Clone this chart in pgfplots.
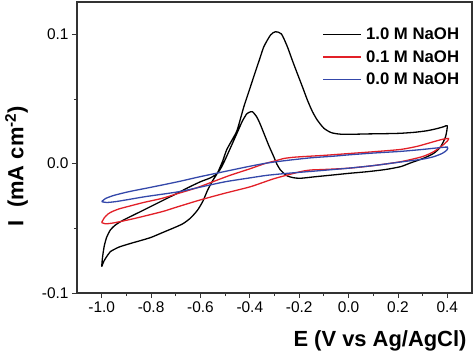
\documentclass[border=0pt]{standalone}
\usepackage{fontspec}
\setmainfont{Liberation Sans}
\usepackage{pgfplots}
\pgfplotsset{compat=1.18}
\definecolor{cvred}{RGB}{226,32,40}
\definecolor{cvblue}{RGB}{52,72,170}
\begin{document}
\begin{tikzpicture}
\begin{axis}[
  at={(0,0)}, anchor=south west,
  scale only axis, width=395bp, height=291bp,
  xmin=-1.1, xmax=0.5, ymin=-0.1, ymax=0.125,
  xtick={-1,-0.8,-0.6,-0.4,-0.2,0,0.2,0.4},
  xticklabels={-1.0,-0.8,-0.6,-0.4,-0.2,0.0,0.2,0.4},
  ytick={-0.1,0,0.1},
  yticklabels={-0.1,0.0,0.1},
  minor x tick num=1, minor y tick num=1,
  tick pos=left, tick align=outside,
  major tick length=5bp, minor tick length=3bp,
  every tick/.style={black!80, line width=0.8bp},
  axis line style={black!80, line width=1.1bp},
  tick label style={font=\fontsize{15.5}{18}\selectfont},
  xlabel={E (V vs Ag/AgCl)},
  ylabel={I\ \ (mA cm\textsuperscript{-2})},
  label style={font=\bfseries\fontsize{22}{26}\selectfont},
  xlabel style={at={(axis description cs:0.99494,-0.18213)}, anchor=base east},
  ylabel style={at={(axis description cs:-0.1532,0.4364)}, anchor=center},
  legend style={draw=none, fill=none, at={(axis description cs:0.6210,0.914)}, anchor=north west,
    font=\bfseries\fontsize{16.8}{19}\selectfont, row sep=7bp, column sep=3.5bp, inner sep=0pt, nodes={inner sep=1bp}},
  legend cell align=left,
  legend image code/.code={\draw[#1, line width=1.1bp] (0bp,0bp) -- (38bp,0bp);},
]
\addplot[black, line width=1.3bp, smooth, tension=0.4] table {
-1.000 -0.0797
-0.990 -0.0750
-0.975 -0.0705
-0.965 -0.0680
-0.930 -0.0645
-0.880 -0.0615
-0.843 -0.0595
-0.800 -0.0570
-0.750 -0.0530
-0.700 -0.0490
-0.669 -0.0462
-0.640 -0.0420
-0.612 -0.0360
-0.590 -0.0290
-0.571 -0.0205
-0.550 -0.0130
-0.531 -0.0072
-0.510 0.0020
-0.494 0.0106
-0.470 0.0190
-0.451 0.0261
-0.424 0.0441
-0.400 0.0580
-0.384 0.0673
-0.360 0.0810
-0.343 0.0905
-0.316 0.0995
-0.296 0.1020
-0.272 0.1003
-0.248 0.0905
-0.228 0.0800
-0.208 0.0699
-0.187 0.0595
-0.167 0.0493
-0.147 0.0405
-0.127 0.0338
-0.100 0.0274
-0.070 0.0240
-0.032 0.0228
0.030 0.0228
0.076 0.0230
0.150 0.0232
0.211 0.0235
0.270 0.0243
0.319 0.0255
0.360 0.0272
0.386 0.0286
0.400 0.0292
0.393 0.0209
0.373 0.0131
0.345 0.0080
0.304 0.0042
0.250 0.0005
0.211 -0.0023
0.150 -0.0045
0.076 -0.0062
0.000 -0.0075
-0.061 -0.0087
-0.130 -0.0100
-0.195 -0.0113
-0.225 -0.0108
-0.248 -0.0095
-0.265 -0.0070
-0.276 -0.0049
-0.290 -0.0005
-0.303 0.0054
-0.323 0.0140
-0.343 0.0235
-0.360 0.0315
-0.373 0.0365
-0.390 0.0402
-0.405 0.0395
-0.413 0.0384
-0.430 0.0330
-0.446 0.0261
-0.466 0.0175
-0.486 0.0090
-0.510 -0.0010
-0.531 -0.0074
-0.560 -0.0110
-0.599 -0.0139
-0.650 -0.0185
-0.694 -0.0229
-0.735 -0.0268
-0.775 -0.0306
-0.843 -0.0371
-0.911 -0.0435
-0.945 -0.0475
-0.965 -0.0513
-0.980 -0.0570
-0.990 -0.0640
-0.997 -0.0730
-1.000 -0.0797
};
\addplot[cvred, line width=1.3bp, smooth, tension=0.4] table {
-1.000 -0.0455
-0.990 -0.0420
-0.975 -0.0390
-0.958 -0.0371
-0.930 -0.0350
-0.891 -0.0330
-0.830 -0.0300
-0.755 -0.0268
-0.690 -0.0230
-0.620 -0.0190
-0.550 -0.0140
-0.480 -0.0090
-0.400 -0.0040
-0.340 0.0000
-0.300 0.0020
-0.262 0.0040
-0.220 0.0050
-0.154 0.0058
-0.100 0.0064
0.000 0.0078
0.100 0.0092
0.211 0.0110
0.280 0.0135
0.345 0.0170
0.380 0.0188
0.405 0.0195
0.400 0.0175
0.380 0.0140
0.345 0.0093
0.300 0.0055
0.211 0.0015
0.100 -0.0015
0.000 -0.0035
-0.100 -0.0045
-0.154 -0.0049
-0.195 -0.0062
-0.300 -0.0115
-0.397 -0.0178
-0.500 -0.0228
-0.600 -0.0280
-0.700 -0.0338
-0.755 -0.0371
-0.863 -0.0422
-0.930 -0.0450
-0.958 -0.0460
-0.985 -0.0465
-1.000 -0.0455
};
\addplot[cvblue, line width=1.3bp, smooth, tension=0.4] table {
-1.000 -0.0294
-0.985 -0.0270
-0.950 -0.0245
-0.891 -0.0217
-0.820 -0.0190
-0.755 -0.0165
-0.680 -0.0135
-0.600 -0.0100
-0.500 -0.0060
-0.400 -0.0020
-0.330 0.0005
-0.250 0.0025
-0.154 0.0045
-0.060 0.0058
0.000 0.0068
0.100 0.0082
0.211 0.0095
0.300 0.0110
0.350 0.0120
0.400 0.0128
0.398 0.0105
0.380 0.0080
0.345 0.0054
0.300 0.0035
0.211 0.0013
0.100 -0.0015
0.000 -0.0035
-0.060 -0.0045
-0.154 -0.0060
-0.250 -0.0075
-0.330 -0.0090
-0.400 -0.0110
-0.500 -0.0140
-0.593 -0.0178
-0.688 -0.0217
-0.823 -0.0255
-0.900 -0.0280
-0.945 -0.0294
-0.980 -0.0300
-1.000 -0.0294
};
\legend{1.0 M NaOH, 0.1 M NaOH, 0.0 M NaOH}
\end{axis}
\pgfresetboundingbox
\path[use as bounding box] (-77bp,-61bp) rectangle (397bp,293bp);
\end{tikzpicture}
\end{document}
